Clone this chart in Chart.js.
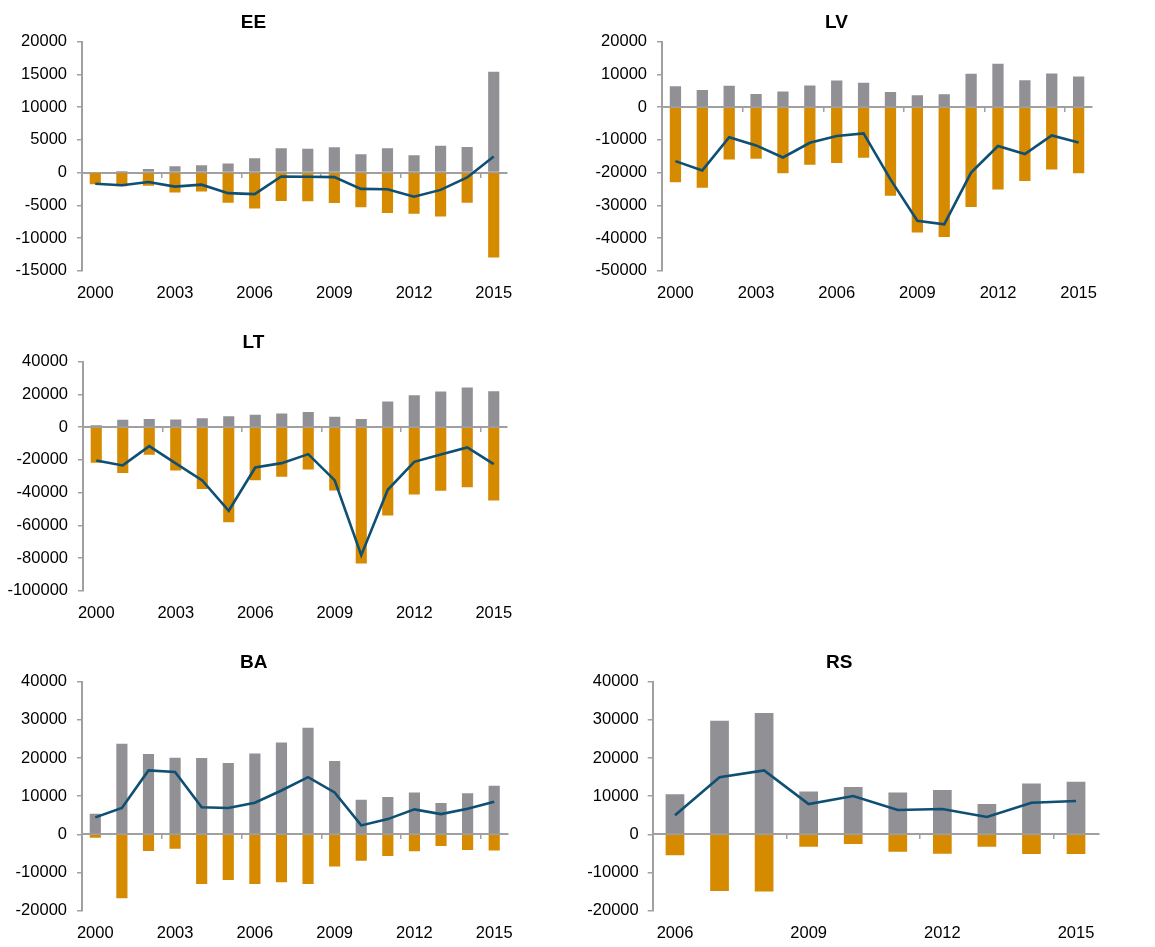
<!DOCTYPE html>
<html>
<head>
<meta charset="utf-8">
<script src="https://cdn.jsdelivr.net/npm/chart.js@4"></script>
<style>
  html, body { margin: 0; padding: 0; background: #ffffff; }
  body { width: 1155px; height: 947px; position: relative; overflow: hidden; }
  .panel { position: absolute; }
  .panel canvas { display: block; }
</style>
</head>
<body>
<div class="panel" style="left:0px;top:0px;width:530px;height:310px"><canvas id="cEE"></canvas></div>
<div class="panel" style="left:580px;top:0px;width:530px;height:310px"><canvas id="cLV"></canvas></div>
<div class="panel" style="left:0px;top:320px;width:526px;height:310px"><canvas id="cLT"></canvas></div>
<div class="panel" style="left:0px;top:640px;width:526px;height:307px"><canvas id="cBA"></canvas></div>
<div class="panel" style="left:580px;top:640px;width:538px;height:307px"><canvas id="cRS"></canvas></div>
<script>
// ---- Categories ----
const years2000 = ['2000','2001','2002','2003','2004','2005','2006','2007','2008','2009','2010','2011','2012','2013','2014','2015'];
const years2006 = ['2006','2007','2008','2009','2010','2011','2012','2013','2014','2015'];

// ---- EE ----
const eePositive = [0, 250, 550, 950, 1100, 1400, 2200, 3700, 3650, 3850, 2800, 3700, 2650, 4100, 3900, 15400];
const eeNegative = [-1800, -2100, -2000, -3050, -2900, -4600, -5500, -4350, -4400, -4650, -5300, -6200, -6300, -6700, -4600, -13000];
const eeNet      = [-1700, -1950, -1450, -2150, -1850, -3150, -3300, -600, -650, -700, -2500, -2550, -3700, -2650, -750, 2450];

// ---- LV ----
const lvPositive = [6400, 5200, 6500, 4000, 4800, 6600, 8150, 7450, 4600, 3650, 3900, 10200, 13250, 8250, 10300, 9400];
const lvNegative = [-23000, -24650, -16000, -15800, -20200, -17600, -17100, -15500, -27100, -38300, -39700, -30500, -25200, -22600, -19050, -20200];
const lvNet      = [-16500, -19350, -9200, -11700, -15400, -10900, -8850, -8050, -22100, -34750, -35850, -20000, -11900, -14350, -8650, -10800];

// ---- LT ----
const ltPositive = [1200, 4500, 4900, 4700, 5500, 6700, 7500, 8350, 9200, 6300, 4900, 15700, 19550, 21800, 24250, 22000];
const ltNegative = [-21800, -28100, -16900, -26500, -37900, -58100, -32400, -30400, -25900, -38700, -83350, -54000, -41200, -38900, -36700, -44800];
const ltNet      = [-20400, -23400, -11600, -22200, -32600, -51150, -24650, -22000, -16500, -32600, -78250, -38300, -21200, -16700, -12450, -22600];

// ---- BA ----
const baPositive = [5400, 23750, 21050, 20100, 20000, 18700, 21200, 24100, 27950, 19200, 9100, 9800, 11000, 8200, 10800, 12750];
const baNegative = [-870, -16750, -4350, -3750, -13000, -11950, -13000, -12550, -13000, -8400, -6900, -5700, -4450, -3050, -4100, -4200];
const baNet      = [4450, 6900, 16750, 16350, 7100, 6900, 8300, 11500, 15000, 11000, 2350, 4000, 6550, 5300, 6700, 8550];

// ---- RS ----
const rsPositive = [10500, 29800, 31800, 11200, 12400, 11000, 11600, 7950, 13300, 13800];
const rsNegative = [-5500, -14850, -15000, -3250, -2550, -4550, -5050, -3250, -5150, -5150];
const rsNet      = [5000, 14950, 16750, 7950, 10050, 6400, 6650, 4550, 8300, 8750];

// ---- Styles ----
const GRAY_BAR = '#919095';
const ORANGE_BAR = '#D68A00';
const LINE_BLUE = '#0E4F74';
const AXIS_GRAY = '#A0A0A0';
const FONT_FAMILY = '"Liberation Sans", Arial, Helvetica, sans-serif';
const TICK_SIZE = 16.5;

function makePanel(id, title, labels, pos, neg, net, yMin, yMax, yStep, geo) {
  const canvas = document.getElementById(id);
  const parent = canvas.parentElement;
  const W = parent.clientWidth, H = parent.clientHeight;
  return new Chart(canvas, {
    type: 'bar',
    data: {
      labels: labels,
      datasets: [
        {
          type: 'line', label: 'net', data: net, order: 0,
          borderColor: LINE_BLUE, borderWidth: 2.6, pointRadius: 0, pointHoverRadius: 0,
          tension: 0, fill: false, xAxisID: 'x', yAxisID: 'y'
        },
        {
          label: 'positive', data: pos, order: 1, backgroundColor: GRAY_BAR,
          grouped: false, barPercentage: 0.42, categoryPercentage: 1, borderWidth: 0,
          xAxisID: 'x', yAxisID: 'y'
        },
        {
          label: 'negative', data: neg, order: 2, backgroundColor: ORANGE_BAR,
          grouped: false, barPercentage: 0.42, categoryPercentage: 1, borderWidth: 0,
          xAxisID: 'x', yAxisID: 'y'
        }
      ]
    },
    options: {
      responsive: false,
      maintainAspectRatio: false,
      animation: false,
      devicePixelRatio: 1,
      layout: { padding: { left: 0, right: W - geo.right, top: 0, bottom: 0 } },
      plugins: {
        legend: { display: false },
        tooltip: { enabled: false },
        title: {
          display: true, text: title, color: '#000000',
          font: { family: FONT_FAMILY, size: 19, weight: 'bold', lineHeight: 1.2 },
          padding: { top: 11, bottom: geo.top - 11 - 19 * 1.2 }
        }
      },
      scales: {
        x: {
          type: 'category', position: 'bottom',
          grid: { display: false, drawTicks: false },
          border: { display: false },
          ticks: {
            autoSkip: false, maxRotation: 0, minRotation: 0, padding: 12.5,
            color: '#000000', font: { family: FONT_FAMILY, size: TICK_SIZE },
            callback: function (v, i) { return i % 3 === 0 ? labels[i] : ''; }
          },
          afterFit: function (s) { s.height = H - geo.bottom; }
        },
        x2: {
          type: 'category', labels: labels, position: { y: 0 }, z: 1,
          offset: true,
          grid: {
            display: true, drawOnChartArea: false, drawTicks: true, tickLength: 4, offset: true,
            lineWidth: 1.5,
            color: function (ctx) { return ctx.index % 3 === 0 ? AXIS_GRAY : 'rgba(0,0,0,0)'; }
          },
          border: { display: true, color: AXIS_GRAY, width: 2 },
          ticks: { display: false }
        },
        y: {
          type: 'linear', position: 'left',
          min: yMin, max: yMax,
          grid: { display: true, drawOnChartArea: false, drawTicks: true, tickLength: 5, color: AXIS_GRAY, lineWidth: 1.5 },
          border: { display: true, color: AXIS_GRAY, width: 2 },
          ticks: {
            stepSize: yStep, padding: geo.labelPad, color: '#000000',
            font: { family: FONT_FAMILY, size: TICK_SIZE },
            callback: function (v) { return String(v); }
          },
          afterFit: function (s) { s.width = geo.left; }
        }
      }
    }
  });
}

function sizeCanvas(id) {
  const c = document.getElementById(id);
  c.width = c.parentElement.clientWidth;
  c.height = c.parentElement.clientHeight;
  c.style.width = c.width + 'px';
  c.style.height = c.height + 'px';
}
['cEE','cLV','cLT','cBA','cRS'].forEach(sizeCanvas);

makePanel('cEE', 'EE', years2000, eePositive, eeNegative, eeNet, -15000, 20000, 5000,
  { left: 82, right: 507, top: 41.7, bottom: 270.7, labelPad: 10 });
makePanel('cLV', 'LV', years2000, lvPositive, lvNegative, lvNet, -50000, 20000, 10000,
  { left: 82, right: 513, top: 41.7, bottom: 270.7, labelPad: 10 });
makePanel('cLT', 'LT', years2000, ltPositive, ltNegative, ltNet, -100000, 40000, 20000,
  { left: 83, right: 507, top: 41.7, bottom: 270.7, labelPad: 10 });
makePanel('cBA', 'BA', years2000, baPositive, baNegative, baNet, -20000, 40000, 10000,
  { left: 82, right: 507.5, top: 41.7, bottom: 270.7, labelPad: 10 });
makePanel('cRS', 'RS', years2006, rsPositive, rsNegative, rsNet, -20000, 40000, 10000,
  { left: 72.7, right: 518.3, top: 41.7, bottom: 270.7, labelPad: 9 });
</script>
</body>
</html>
